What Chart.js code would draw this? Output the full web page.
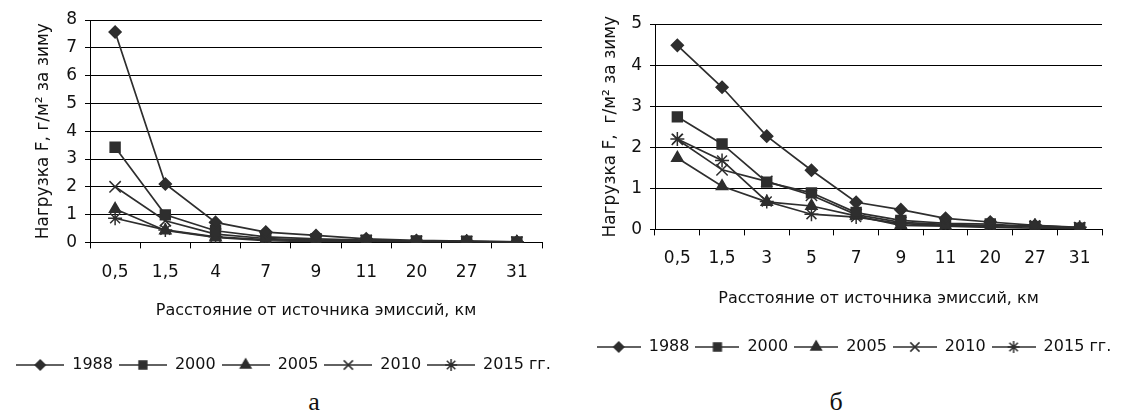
<!DOCTYPE html>
<html lang="ru">
<head>
<meta charset="utf-8">
<title>Нагрузка F за зиму</title>
<script src="https://cdn.jsdelivr.net/npm/chart.js@4.4.1/dist/chart.umd.min.js"></script>
<style>
  html, body { margin: 0; padding: 0; background: #fff; }
  body { width: 1121px; height: 416px; position: relative; overflow: hidden; }
  .box { position: absolute; top: 0; }
  #boxA { left: 0; width: 560px; height: 383px; }
  #boxB { left: 560px; width: 561px; height: 365px; }
  .letter {
    position: absolute; top: 387px; width: 40px; margin-left: -20px;
    text-align: center; font: 26px "Liberation Serif", "Times New Roman", serif; color: #111;
  }
</style>
</head>
<body>
<div class="box" id="boxA"><canvas id="chartA"></canvas></div>
<div class="box" id="boxB"><canvas id="chartB"></canvas></div>
<div class="letter" style="left:314px">а</div>
<div class="letter" style="left:836px">б</div>

<script>
// --- data ---
const years = ['1988', '2000', '2005', '2010', '2015 гг.'];

// chart а
const distA = ['0,5', '1,5', '4', '7', '9', '11', '20', '27', '31'];
const a1988 = [7.57, 2.10, 0.72, 0.37, 0.25, 0.13, 0.07, 0.05, 0.02];
const a2000 = [3.42, 0.99, 0.42, 0.20, 0.13, 0.08, 0.05, 0.04, 0.02];
const a2005 = [1.20, 0.43, 0.18, 0.06, 0.03, 0.03, 0.02, 0.02, 0.01];
const a2010 = [2.00, 0.78, 0.30, 0.14, 0.08, 0.06, 0.04, 0.03, 0.01];
const a2015 = [0.87, 0.45, 0.20, 0.10, 0.06, 0.05, 0.03, 0.03, 0.01];

// chart б
const distB = ['0,5', '1,5', '3', '5', '7', '9', '11', '20', '27', '31'];
const b1988 = [4.48, 3.46, 2.27, 1.44, 0.66, 0.48, 0.27, 0.18, 0.10, 0.04];
const b2000 = [2.74, 2.08, 1.15, 0.89, 0.41, 0.22, 0.15, 0.13, 0.06, 0.03];
const b2005 = [1.74, 1.05, 0.67, 0.57, 0.33, 0.10, 0.08, 0.05, 0.03, 0.01];
const b2010 = [2.19, 1.45, 1.17, 0.83, 0.36, 0.17, 0.12, 0.09, 0.07, 0.04];
const b2015 = [2.20, 1.68, 0.68, 0.37, 0.30, 0.14, 0.10, 0.08, 0.10, 0.05];

const yTitleA = 'Нагрузка F, г/м² за зиму';
const yTitleB = 'Нагрузка F,  г/м² за зиму';
const xTitle = 'Расстояние от источника эмиссий, км';

const INK = '#2e2e2e';
const TEXT = '#111111';
const FONT = '"DejaVu Sans", "Liberation Sans", Arial, sans-serif';

// marker per series: [style, radius on chart, radius in legend]
const markers = [
    ['rectRot', 6, 5],
    ['rect', 7, 5.5],
    ['triangle', 6.5, 6],
    ['crossRot', 8, 6.5],
    ['star', 7, 6]
];

// legend icon: short line with the marker in the middle
function makeIcon(style, r, w) {
    const c = document.createElement('canvas');
    c.width = w;
    c.height = 16;
    const g = c.getContext('2d');
    g.strokeStyle = INK;
    g.fillStyle = INK;
    g.lineWidth = 1.5;
    g.beginPath();
    g.moveTo(0, 8);
    g.lineTo(w, 8);
    g.stroke();
    Chart.helpers.drawPoint(g, { pointStyle: style, radius: r, borderWidth: 1.5, rotation: 0 }, w / 2, 8);
    return c;
}

function makeDatasets(seriesList) {
    return seriesList.map((vals, i) => ({
        label: years[i],
        data: vals,
        borderColor: INK,
        backgroundColor: INK,
        borderWidth: 1.7,
        pointStyle: markers[i][0],
        pointRadius: markers[i][1],
        pointBorderWidth: 1.5,
        pointBackgroundColor: INK,
        pointBorderColor: INK,
        tension: 0
    }));
}

function makeChart(id, labels, series, cfg) {
    const icons = markers.map(m => makeIcon(m[0], m[2], cfg.iconW));
    return new Chart(document.getElementById(id), {
        type: 'line',
        data: { labels: labels, datasets: makeDatasets(series) },
        options: {
            responsive: true,
            maintainAspectRatio: false,
            animation: false,
            devicePixelRatio: 1,
            layout: { padding: { top: cfg.top, left: cfg.left, right: 0, bottom: 0 } },
            scales: {
                x: {
                    offset: true,
                    grid: { drawOnChartArea: false, color: '#000', tickLength: 6, offset: true },
                    border: { color: '#000', width: 1 },
                    ticks: { color: TEXT, font: { family: FONT, size: 17 }, padding: cfg.xTickPad, maxRotation: 0, autoSkip: false },
                    title: {
                        display: true, text: xTitle, color: TEXT,
                        font: { family: FONT, size: 16 },
                        padding: { top: cfg.xTitleTop, bottom: cfg.xTitleBottom }
                    }
                },
                y: {
                    min: 0, max: cfg.yMax,
                    grid: { color: '#000', lineWidth: 1, tickLength: 5 },
                    border: { color: '#000', width: 1 },
                    ticks: { stepSize: 1, color: TEXT, font: { family: FONT, size: 17 }, padding: 8 },
                    title: {
                        display: true, text: cfg.yTitle, color: TEXT,
                        font: { family: FONT, size: 17 },
                        padding: { top: cfg.yTitlePad, bottom: 0 }
                    },
                    afterFit: s => { s.width = cfg.yWidth; }
                },
                // empty axis that only keeps room on the right
                yRight: {
                    position: 'right', display: true,
                    grid: { display: false }, border: { display: false },
                    ticks: { display: false },
                    afterFit: s => { s.width = cfg.rightGap; }
                }
            },
            plugins: {
                legend: {
                    position: 'bottom',
                    labels: {
                        usePointStyle: true,
                        pointStyleWidth: cfg.iconW,
                        padding: 6,
                        color: TEXT,
                        font: { family: FONT, size: 16 },
                        generateLabels: chart =>
                            Chart.defaults.plugins.legend.labels.generateLabels(chart)
                                .map((item, i) => Object.assign(item, { pointStyle: icons[i] }))
                    }
                },
                tooltip: { enabled: false }
            }
        }
    });
}

makeChart('chartA', distA, [a1988, a2000, a2005, a2010, a2015], {
    top: 20, left: 7, yWidth: 83, rightGap: 18, yMax: 8, iconW: 48,
    yTitle: yTitleA, yTitlePad: 26,
    xTickPad: 14, xTitleTop: 4, xTitleBottom: 31
});

makeChart('chartB', distB, [b1988, b2000, b2005, b2010, b2015], {
    top: 24, left: 27, yWidth: 68, rightGap: 19, yMax: 5, iconW: 44,
    yTitle: yTitleB, yTitlePad: 13,
    xTickPad: 13, xTitleTop: 7, xTitleBottom: 25
});
</script>
</body>
</html>
